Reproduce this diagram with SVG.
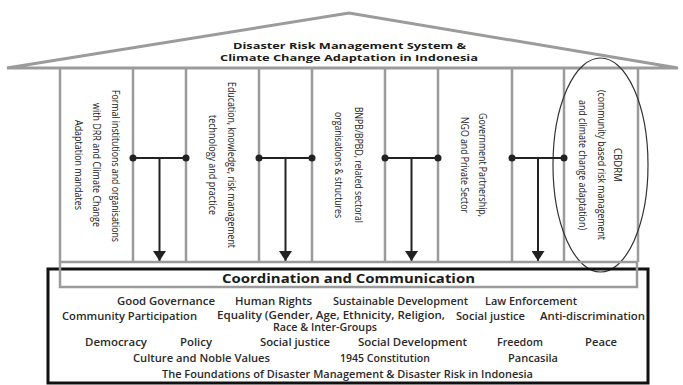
<svg xmlns="http://www.w3.org/2000/svg" width="683" height="385" viewBox="0 0 683 385">
<style>
.g{fill:none;stroke:#9b9b9b;stroke-width:2.5}
.roof{fill:#fff;stroke:#9b9b9b;stroke-width:3;stroke-linejoin:miter}
.t{font-family:"Open Sans","Liberation Sans",sans-serif;font-size:10px;font-weight:600;fill:#2a2a2a}
.h{font-family:"Open Sans","Liberation Sans",sans-serif;font-weight:700;fill:#1a1a1a}
.v{font-family:"Open Sans","Liberation Sans",sans-serif;font-size:11px;fill:#222;text-anchor:middle;dominant-baseline:central}
.c{stroke:#222;stroke-width:2;fill:none}
.d{fill:#222}
</style>
<defs>
<marker id="ah" markerUnits="userSpaceOnUse" markerWidth="10" markerHeight="13" refX="10" refY="6.5" orient="auto" viewBox="0 0 10 13">
<path d="M0,0 L10,6.5 L0,13 Z" fill="#222"/>
</marker>
</defs>
<rect width="683" height="385" fill="#fff"/>

<g id="roof">
<polygon class="roof" points="7,68 349,13 678,68"/>
<text class="h" x="349.5" y="49" font-size="9.5" text-anchor="middle" textLength="233" lengthAdjust="spacingAndGlyphs">Disaster Risk Management System &amp;</text>
<text class="h" x="349" y="61" font-size="9.5" text-anchor="middle" textLength="258" lengthAdjust="spacingAndGlyphs">Climate Change Adaptation in Indonesia</text>
</g>

<g id="pillars">
<line class="g" x1="60" y1="68" x2="60" y2="262"/>
<line class="g" x1="133" y1="68" x2="133" y2="262"/>
<line class="g" x1="186" y1="68" x2="186" y2="262"/>
<line class="g" x1="259" y1="68" x2="259" y2="262"/>
<line class="g" x1="312" y1="68" x2="312" y2="262"/>
<line class="g" x1="385" y1="68" x2="385" y2="262"/>
<line class="g" x1="438" y1="68" x2="438" y2="262"/>
<line class="g" x1="512" y1="68" x2="512" y2="262"/>
<line class="g" x1="564" y1="68" x2="564" y2="262"/>
<line class="g" x1="638" y1="68" x2="638" y2="262"/>
</g>

<g id="panel-formal">
<text class="v" transform="translate(116,166) rotate(90)" textLength="152" lengthAdjust="spacingAndGlyphs">Formal institutions and organisations</text>
<text class="v" transform="translate(97.5,165) rotate(90)" textLength="124" lengthAdjust="spacingAndGlyphs">with DRR and Climate Change</text>
<text class="v" transform="translate(79,165) rotate(90)" textLength="90" lengthAdjust="spacingAndGlyphs">Adaptation mandates</text>
</g>

<g id="panel-education">
<text class="v" transform="translate(232,165) rotate(90)" textLength="166" lengthAdjust="spacingAndGlyphs">Education, knowledge, risk management</text>
<text class="v" transform="translate(213,165) rotate(90)" textLength="100" lengthAdjust="spacingAndGlyphs">technology and practice</text>
</g>

<g id="panel-bnpb">
<text class="v" transform="translate(359,165) rotate(90)" textLength="116" lengthAdjust="spacingAndGlyphs">BNPB/BPBD, related sectoral</text>
<text class="v" transform="translate(339,165) rotate(90)" textLength="106" lengthAdjust="spacingAndGlyphs">organisations &amp; structures</text>
</g>

<g id="panel-government">
<text class="v" transform="translate(483,165) rotate(90)" textLength="104" lengthAdjust="spacingAndGlyphs">Government Partnership,</text>
<text class="v" transform="translate(465,165) rotate(90)" textLength="96" lengthAdjust="spacingAndGlyphs">NGO and Private Sector</text>
</g>

<g id="panel-cbdrm">
<text class="v" transform="translate(618,165) rotate(90)" textLength="34" lengthAdjust="spacingAndGlyphs">CBDRM</text>
<text class="v" transform="translate(602,165) rotate(90)" textLength="150" lengthAdjust="spacingAndGlyphs">(community based risk management</text>
<text class="v" transform="translate(583,165) rotate(90)" textLength="130" lengthAdjust="spacingAndGlyphs">and climate change adaptation)</text>
<ellipse cx="600.5" cy="165" rx="47.5" ry="107" fill="none" stroke="#333" stroke-width="1.2"/>
</g>

<g id="connectors">
<line class="c" x1="133" y1="158" x2="186" y2="158"/>
<line class="c" x1="159.5" y1="158" x2="159.5" y2="261" marker-end="url(#ah)"/>
<circle class="d" cx="133" cy="158" r="3.5"/><circle class="d" cx="186" cy="158" r="3.5"/>
<line class="c" x1="259" y1="158" x2="312" y2="158"/>
<line class="c" x1="285.5" y1="158" x2="285.5" y2="261" marker-end="url(#ah)"/>
<circle class="d" cx="259" cy="158" r="3.5"/><circle class="d" cx="312" cy="158" r="3.5"/>
<line class="c" x1="385" y1="158" x2="438" y2="158"/>
<line class="c" x1="411.5" y1="158" x2="411.5" y2="261" marker-end="url(#ah)"/>
<circle class="d" cx="385" cy="158" r="3.5"/><circle class="d" cx="438" cy="158" r="3.5"/>
<line class="c" x1="512" y1="158" x2="564" y2="158"/>
<line class="c" x1="538" y1="158" x2="538" y2="261" marker-end="url(#ah)"/>
<circle class="d" cx="512" cy="158" r="3.5"/><circle class="d" cx="564" cy="158" r="3.5"/>
</g>

<g id="foundations">
<rect x="48" y="269" width="600" height="114" fill="none" stroke="#111" stroke-width="3"/>
<text class="t" x="117" y="305" textLength="98" lengthAdjust="spacingAndGlyphs">Good Governance</text>
<text class="t" x="235" y="305" textLength="77" lengthAdjust="spacingAndGlyphs">Human Rights</text>
<text class="t" x="333" y="305" textLength="135" lengthAdjust="spacingAndGlyphs">Sustainable Development</text>
<text class="t" x="485" y="305" textLength="92" lengthAdjust="spacingAndGlyphs">Law Enforcement</text>
<text class="t" x="62" y="320" textLength="135" lengthAdjust="spacingAndGlyphs">Community Participation</text>
<text class="t" x="217" y="318.5" font-size="8.5" textLength="228" lengthAdjust="spacingAndGlyphs">Equality (Gender, Age, Ethnicity, Religion,</text>
<text class="t" x="273" y="331" font-size="8.5" textLength="104" lengthAdjust="spacingAndGlyphs">Race &amp; Inter-Groups</text>
<text class="t" x="456" y="320" textLength="69" lengthAdjust="spacingAndGlyphs">Social justice</text>
<text class="t" x="540" y="320" textLength="105" lengthAdjust="spacingAndGlyphs">Anti-discrimination</text>
<text class="t" x="85" y="345.5" textLength="62" lengthAdjust="spacingAndGlyphs">Democracy</text>
<text class="t" x="180" y="345.5" textLength="32" lengthAdjust="spacingAndGlyphs">Policy</text>
<text class="t" x="260" y="345.5" textLength="70" lengthAdjust="spacingAndGlyphs">Social justice</text>
<text class="t" x="358" y="345.5" textLength="109" lengthAdjust="spacingAndGlyphs">Social Development</text>
<text class="t" x="497" y="345.5" textLength="46" lengthAdjust="spacingAndGlyphs">Freedom</text>
<text class="t" x="585" y="345.5" textLength="32" lengthAdjust="spacingAndGlyphs">Peace</text>
<text class="t" x="133" y="361.5" textLength="137" lengthAdjust="spacingAndGlyphs">Culture and Noble Values</text>
<text class="t" x="340" y="361.5" textLength="90" lengthAdjust="spacingAndGlyphs">1945 Constitution</text>
<text class="t" x="508" y="361.5" textLength="50" lengthAdjust="spacingAndGlyphs">Pancasila</text>
<text class="t" x="162" y="377.5" textLength="371" lengthAdjust="spacingAndGlyphs">The Foundations of Disaster Management &amp; Disaster Risk in Indonesia</text>
</g>

<g id="coordination">
<rect x="60" y="262" width="577" height="25" fill="none" stroke="#9b9b9b" stroke-width="2.5"/>
<text class="h" x="348.5" y="283" font-size="11.5" text-anchor="middle" textLength="253" lengthAdjust="spacingAndGlyphs">Coordination and Communication</text>
</g>
</svg>
